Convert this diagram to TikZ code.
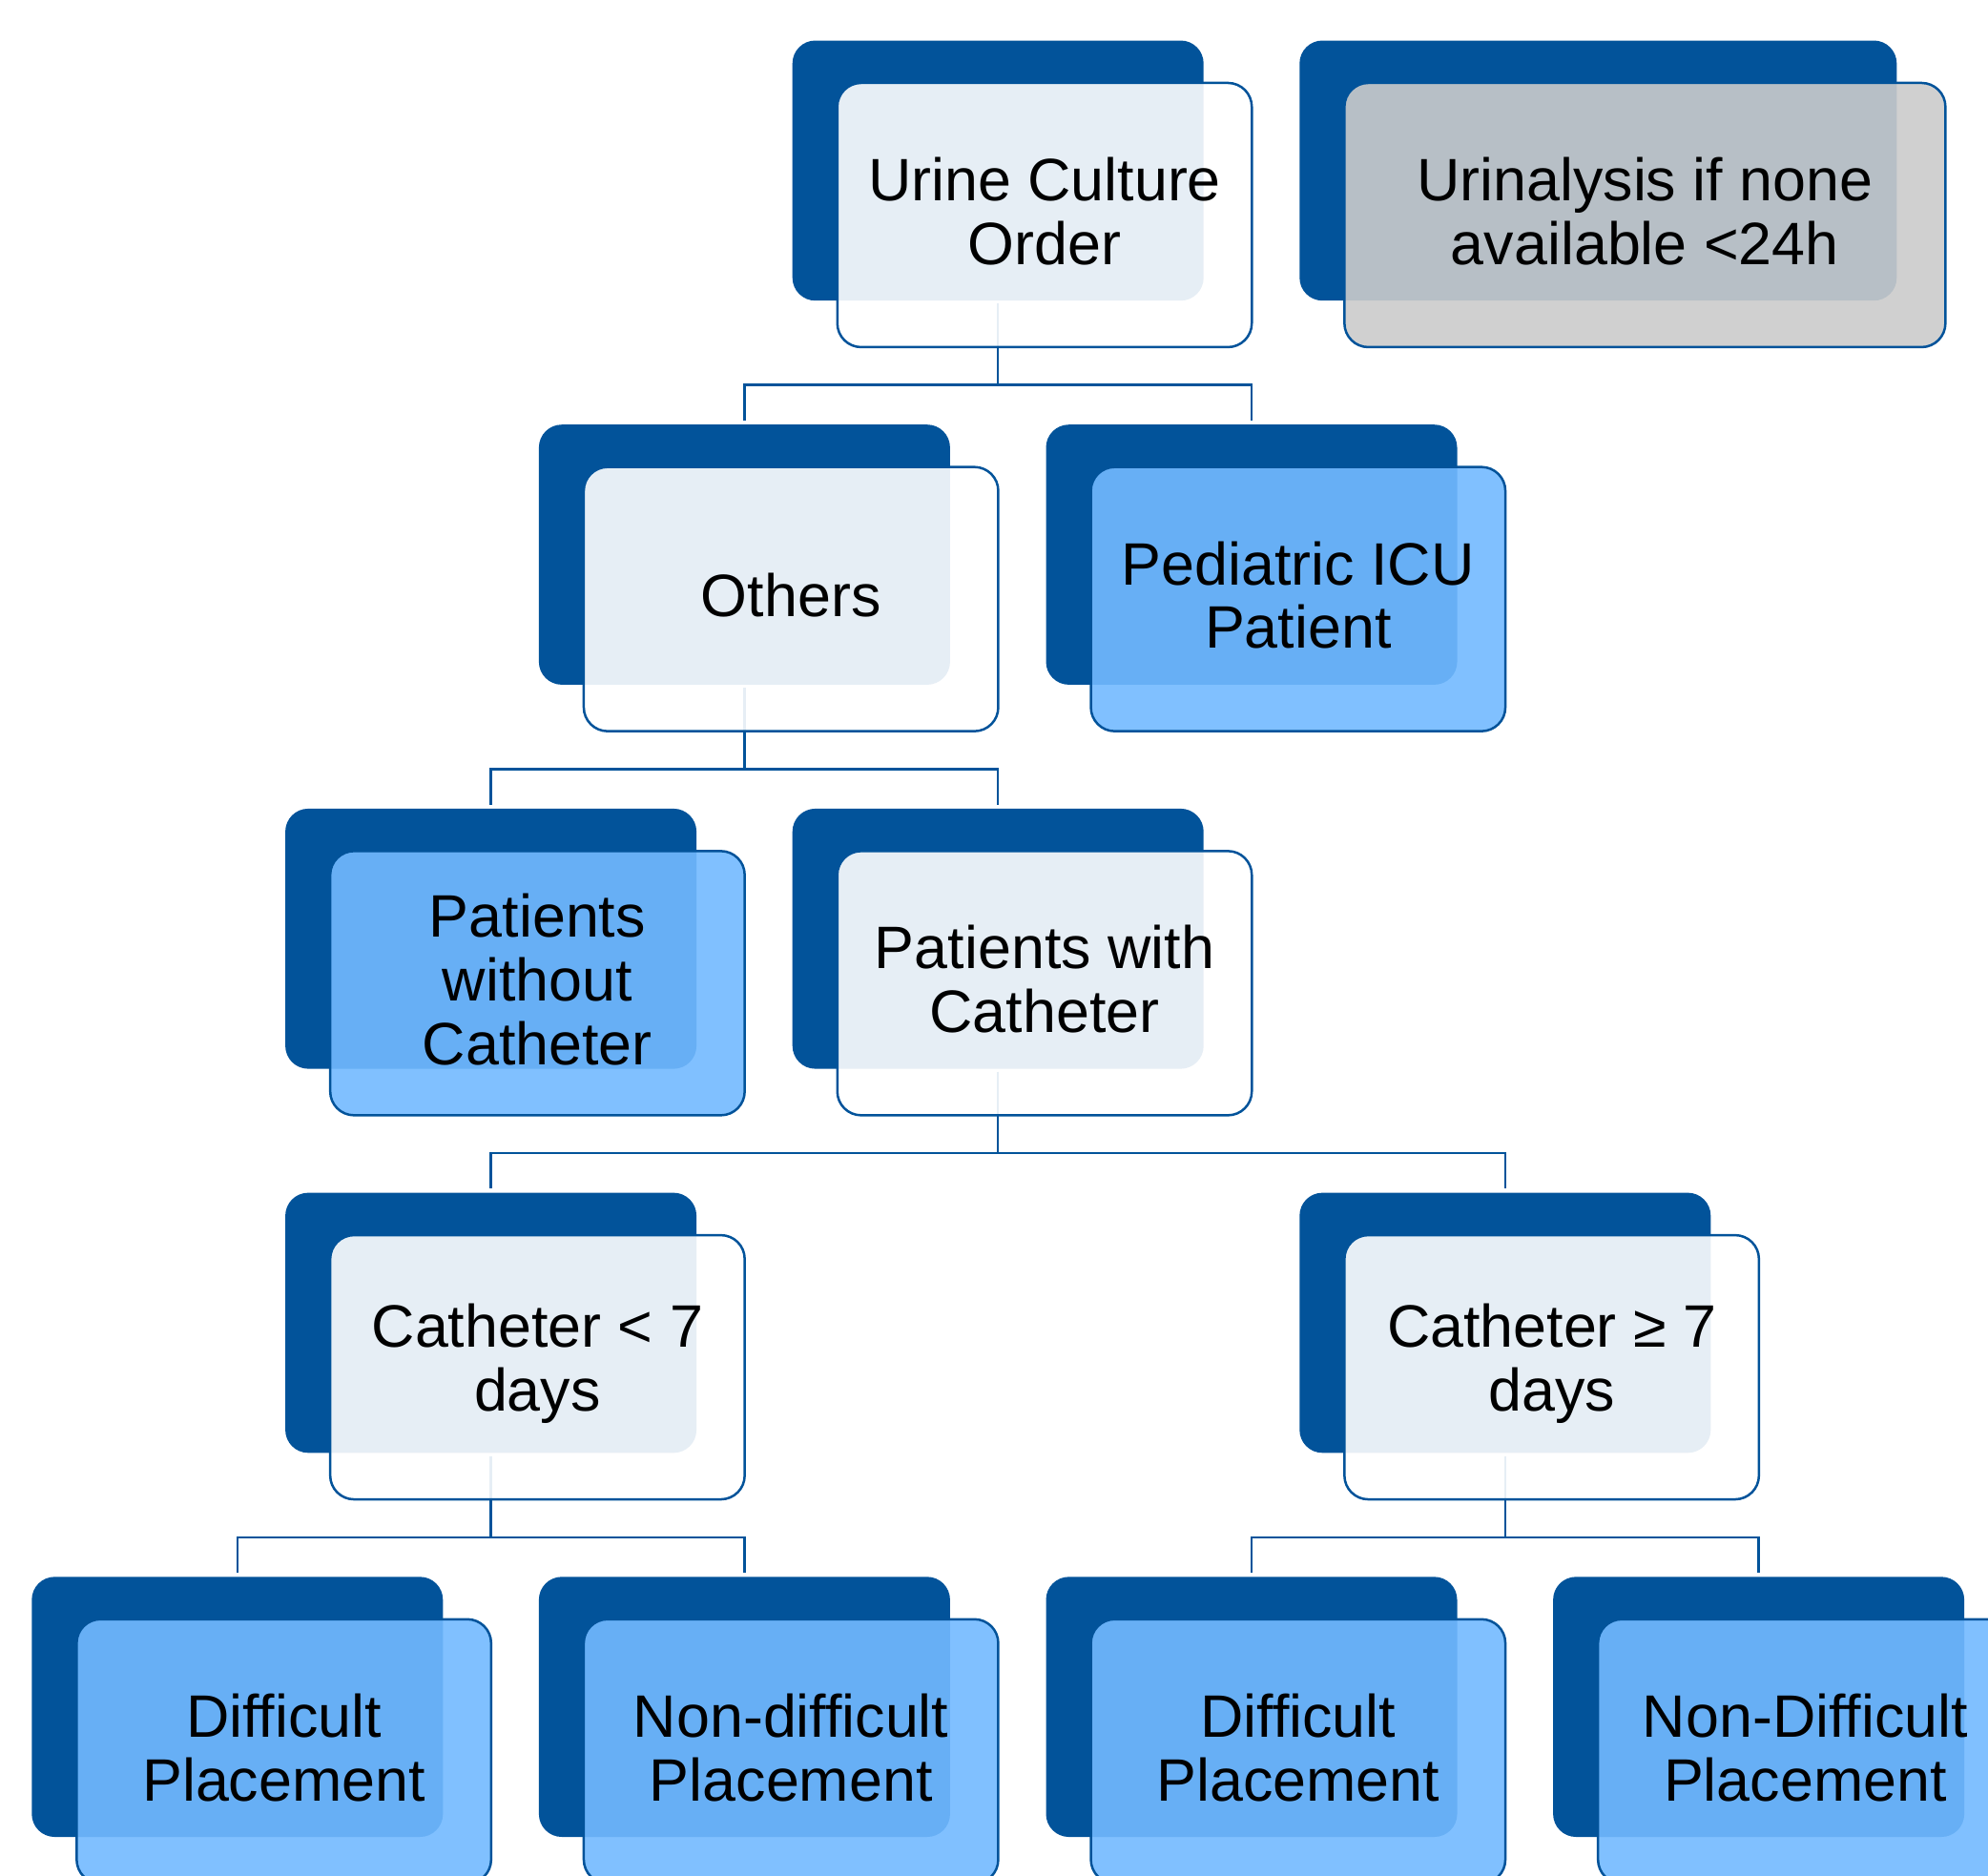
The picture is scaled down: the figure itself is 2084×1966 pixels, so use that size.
\documentclass[tikz,border=0pt]{standalone}
\usepackage{fontspec}
\setmainfont{Liberation Sans}
\definecolor{darkb}{RGB}{2,83,154}
\definecolor{bluef}{RGB}{114,185,255}
\definecolor{grayf}{RGB}{203,203,203}
\begin{document}
\begin{tikzpicture}[x=1pt,y=1pt,
  backbox/.style={draw=none, fill=darkb, rounded corners=24pt, minimum width=431pt, minimum height=272.7pt, inner sep=0pt, anchor=north west},
  frontbox/.style={draw=darkb, line width=2.5pt, rounded corners=25pt, minimum width=434.5pt, minimum height=277pt, inner sep=0pt, anchor=north west, fill opacity=0.9},
  lightbox/.style={frontbox, fill=white},
  bluebox/.style={frontbox, fill=bluef},
  graybox/.style={frontbox, fill=grayf},
  lbl/.style={inner sep=0pt, align=center, font=\fontsize{62.8}{66.7}\selectfont},
  conn/.style={draw=darkb, line width=2.5pt, shorten <=3pt, shorten >=4pt}]
\useasboundingbox (0,0) rectangle (2084,-1966);
\clip (0,0) rectangle (2084,-1966);
% back boxes
\node[backbox] (ub) at (830.5,-42.3) {};
\node[backbox, minimum width=626pt] (ab) at (1362.1,-42.3) {};
\node[backbox] (ob) at (564.7,-445.0) {};
\node[backbox] (pb) at (1096.3,-445.0) {};
\node[backbox] (wob) at (298.9,-847.7) {};
\node[backbox] (wb) at (830.5,-847.7) {};
\node[backbox] (lsb) at (298.9,-1250.4) {};
\node[backbox] (geb) at (1362.1,-1250.4) {};
\node[backbox] (d1b) at (33.1,-1653.1) {};
\node[backbox] (n1b) at (564.7,-1653.1) {};
\node[backbox] (d2b) at (1096.3,-1653.1) {};
\node[backbox] (n2b) at (1627.9,-1653.1) {};
% connectors
\draw[conn] (ub.south) -- ++(0,-88.3) -| (ob.north);
\draw[conn] (ub.south) -- ++(0,-88.3) -| (pb.north);
\draw[conn] (ob.south) -- ++(0,-88.3) -| (wob.north);
\draw[conn] (ob.south) -- ++(0,-88.3) -| (wb.north);
\draw[conn] (wb.south) -- ++(0,-88.3) -| (lsb.north);
\draw[conn] (wb.south) -- ++(0,-88.3) -| (geb.north);
\draw[conn] (lsb.south) -- ++(0,-88.3) -| (d1b.north);
\draw[conn] (lsb.south) -- ++(0,-88.3) -| (n1b.north);
\draw[conn] (geb.south) -- ++(0,-88.3) -| (d2b.north);
\draw[conn] (geb.south) -- ++(0,-88.3) -| (n2b.north);
% front boxes
\node[lightbox] (uf) at (876.5,-85.7) {};
\node[graybox, minimum width=630pt] (af) at (1408.1,-85.7) {};
\node[lightbox] (of) at (610.7,-488.4) {};
\node[bluebox] (pf) at (1142.3,-488.4) {};
\node[bluebox] (wof) at (344.9,-891.1) {};
\node[lightbox] (wf) at (876.5,-891.1) {};
\node[lightbox] (lsf) at (344.9,-1293.8) {};
\node[lightbox] (gef) at (1408.1,-1293.8) {};
\node[bluebox] (d1f) at (79.1,-1696.5) {};
\node[bluebox] (n1f) at (610.7,-1696.5) {};
\node[bluebox] (d2f) at (1142.3,-1696.5) {};
\node[bluebox] (n2f) at (1673.9,-1696.5) {};
% labels
\node[lbl] (ut) at ([yshift=4pt]uf.center) {Urine Culture\\Order};
\node[lbl] (at) at ([yshift=4pt]af.center) {Urinalysis if none\\available <24h};
\node[lbl] (ot) at ([yshift=4pt]of.center) {Others};
\node[lbl] (pt) at ([yshift=4pt]pf.center) {Pediatric ICU\\Patient};
\node[lbl] (wot) at ([yshift=4pt]wof.center) {Patients\\without\\Catheter};
\node[lbl] (wt) at ([yshift=4pt]wf.center) {Patients with\\Catheter};
\node[lbl] (lst) at ([yshift=4pt]lsf.center) {Catheter < 7\\days};
\node[lbl] (get) at ([yshift=4pt]gef.center) {Catheter ≥ 7\\days};
\node[lbl] (d1t) at ([yshift=4pt]d1f.center) {Difficult\\Placement};
\node[lbl] (n1t) at ([yshift=4pt]n1f.center) {Non-difficult\\Placement};
\node[lbl] (d2t) at ([yshift=4pt]d2f.center) {Difficult\\Placement};
\node[lbl] (n2t) at ([yshift=4pt]n2f.center) {Non-Difficult\\Placement};
\end{tikzpicture}
\end{document}
